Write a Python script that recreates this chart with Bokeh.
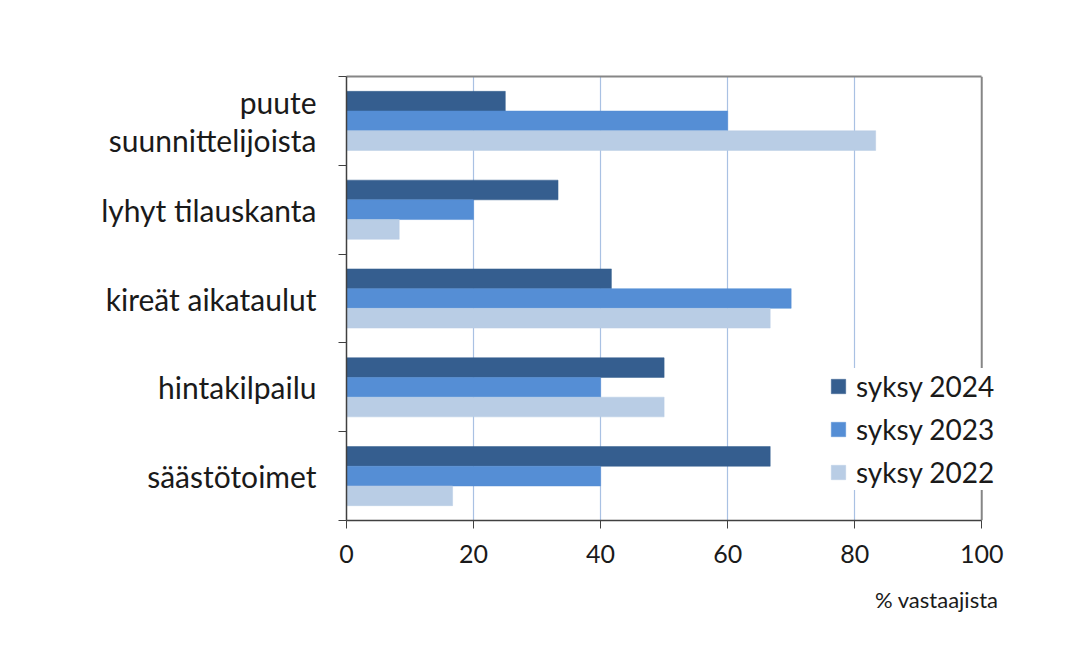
from bokeh.plotting import figure
from bokeh.models import Range1d, FixedTicker, Legend, LegendItem, Title, ColumnDataSource, LinearAxis, Span
from bokeh.transform import dodge
from bokeh.embed import file_html
from bokeh.resources import INLINE

categories = ["puute\nsuunnittelijoista", "lyhyt tilauskanta", "kireät aikataulut", "hintakilpailu", "säästötoimet"]
syksy_2024 = [25.0, 33.3, 41.7, 50.0, 66.7]
syksy_2023 = [60.0, 20.0, 70.0, 40.0, 40.0]
syksy_2022 = [83.3, 8.3, 66.7, 50.0, 16.7]
series_names = ["syksy 2024", "syksy 2023", "syksy 2022"]
x_ticks = [0, 20, 40, 60, 80, 100]

colors = ["#355E8F", "#558ED5", "#B9CDE5"]
FONT = "Lato"
TXT = "#1a1a1a"
X_MAX = 100

n = len(categories)
centers = [n - 0.5 - i for i in range(n)]
src = ColumnDataSource(dict(y=centers, s2024=syksy_2024, s2023=syksy_2023, s2022=syksy_2022))

# frame extends a little past 100 so the legend (which overhangs the plot box) is not clipped
p = figure(width=1057, height=635, output_backend="svg", toolbar_location=None,
           x_range=Range1d(0, 105), y_range=Range1d(0, n),
           min_border_left=346, min_border_right=44, min_border_top=76, min_border_bottom=115)

# right edge of the plot box (drawn underneath so the legend box covers it)
p.add_layout(Span(location=X_MAX, dimension="height", line_color="#868686", line_width=2,
                  level="underlay"))

bh = 0.222
offs = [bh, 0.0, -bh]
cols = ["s2024", "s2023", "s2022"]
renderers = []
for c, o, col in zip(cols, offs, colors):
    r = p.hbar(y=dodge("y", o, range=p.y_range), left=0, right=c, height=bh,
               fill_color=col, line_color=col, line_width=0.5, source=src)
    renderers.append(r)

# axes
p.xaxis.ticker = FixedTicker(ticks=x_ticks)
p.xaxis.bounds = (0, X_MAX)
p.xaxis.axis_line_color = "#404040"
p.xaxis.axis_line_width = 1.5
p.xaxis.major_tick_line_color = "#404040"
p.xaxis.major_tick_out = 8
p.xaxis.major_tick_in = 0
p.xaxis.minor_tick_line_color = None
p.xaxis.major_label_text_font = FONT
p.xaxis.major_label_text_font_size = "25px"
p.xaxis.major_label_text_color = TXT
p.xaxis.major_label_standoff = 16

top_axis = LinearAxis(bounds=(0, X_MAX), ticker=FixedTicker(ticks=[]), axis_line_color="#868686",
                      axis_line_width=2, major_tick_line_color=None, minor_tick_line_color=None,
                      major_label_text_font_size="0px")
p.add_layout(top_axis, "above")

p.yaxis.ticker = FixedTicker(ticks=centers, minor_ticks=list(range(n + 1)))
p.yaxis.major_label_overrides = {c: lab for c, lab in zip(centers, categories)}
p.yaxis.axis_line_color = "#404040"
p.yaxis.axis_line_width = 1.5
p.yaxis.major_tick_line_color = None
p.yaxis.major_tick_out = 0
p.yaxis.major_tick_in = 0
p.yaxis.minor_tick_line_color = "#404040"
p.yaxis.minor_tick_out = 8
p.yaxis.minor_tick_in = 0
p.yaxis.major_label_text_font = FONT
p.yaxis.major_label_text_font_size = "30px"
p.yaxis.major_label_text_color = TXT
p.yaxis.major_label_standoff = 22
p.yaxis.major_label_text_line_height = 1.07

p.xgrid.ticker = FixedTicker(ticks=[20, 40, 60, 80])
p.xgrid.grid_line_color = "#A9C1E3"
p.xgrid.grid_line_width = 1.2
p.ygrid.grid_line_color = None

p.outline_line_color = None
p.border_fill_color = "white"
p.background_fill_color = "white"

legend = Legend(items=[LegendItem(label=nm, renderers=[r]) for nm, r in zip(series_names, renderers)],
                location=(483, 30), background_fill_color="white", background_fill_alpha=1.0,
                border_line_color=None, glyph_width=18, glyph_height=18, label_standoff=9,
                label_text_font=FONT, label_text_font_size="28px", label_text_color=TXT,
                label_height=36, spacing=7, padding=10, margin=0)
p.add_layout(legend, "center")

p.add_layout(Title(text="% vastaajista", align="right", offset=15, standoff=37,
                   text_font=FONT, text_font_size="22px", text_font_style="normal",
                   text_color=TXT), "below")

open("out.html", "w").write(file_html(p, INLINE))
